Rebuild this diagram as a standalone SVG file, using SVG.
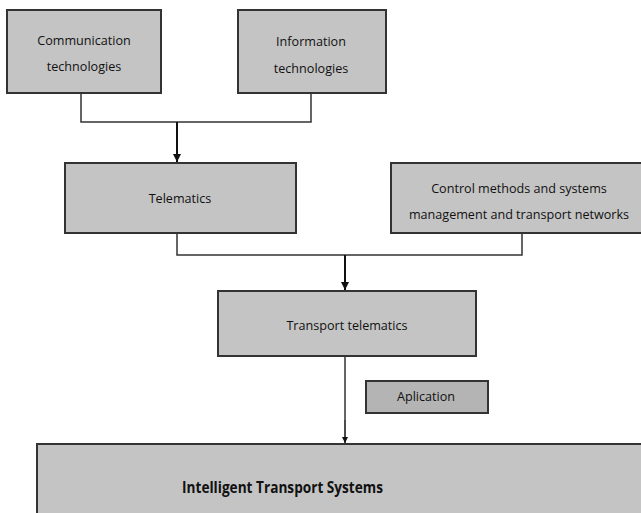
<svg xmlns="http://www.w3.org/2000/svg" width="641" height="513" viewBox="0 0 641 513">
<style>
.box{fill:#c4c4c4;stroke:#333;stroke-width:2}
.t{font-family:"Open Sans","Liberation Sans",sans-serif;font-size:12.6px;fill:#111;text-anchor:middle}
.b{font-family:"Open Sans","Liberation Sans",sans-serif;font-size:16px;font-weight:bold;fill:#111;text-anchor:middle}
.c{fill:none;stroke:#333;stroke-width:1.5}
.a{fill:none;stroke:#111;stroke-width:2}
</style>
<defs>
<marker id="ah" viewBox="0 0 10 10" refX="10" refY="5" markerWidth="4" markerHeight="4" orient="auto" markerUnits="strokeWidth">
<path d="M0,0L10,5L0,10z" fill="#111"/>
</marker>
</defs>
<rect width="641" height="513" fill="#fff"/>
<g id="connectors">
<path class="c" d="M81,93V122H311V93"/>
<path class="a" d="M177,122V162" marker-end="url(#ah)"/>
<path class="c" d="M177,233V255H522V234"/>
<path class="a" d="M345,255V290" marker-end="url(#ah)"/>
<path class="c" d="M345,356V420"/>
<path class="a" d="M345,420V443" marker-end="url(#ah)" style="stroke-width:1.5"/>
</g>
<g id="comm">
<rect class="box" x="7" y="10" width="154" height="83"/>
<text class="t" x="84" y="45">Communication</text>
<text class="t" x="84" y="71">technologies</text>
</g>
<g id="info">
<rect class="box" x="238" y="10" width="148" height="83"/>
<text class="t" x="311" y="46">Information</text>
<text class="t" x="311" y="73">technologies</text>
</g>
<g id="telematics">
<rect class="box" x="65" y="163" width="231" height="70"/>
<text class="t" x="180" y="203">Telematics</text>
</g>
<g id="control">
<rect class="box" x="391" y="163" width="256" height="70"/>
<text class="t" x="519" y="193">Control methods  and systems</text>
<text class="t" x="519" y="219">management  and transport networks</text>
</g>
<g id="transport">
<rect class="box" x="218" y="291" width="258" height="65"/>
<text class="t" x="347" y="330">Transport telematics</text>
</g>
<g id="aplication">
<rect class="box" x="366" y="381" width="122" height="32" style="fill:#b4b4b4"/>
<text class="t" x="426" y="401">Aplication</text>
</g>
<g id="its">
<rect class="box" x="37" y="444" width="612" height="80"/>
<text class="b" x="282.5" y="493" textLength="201" lengthAdjust="spacingAndGlyphs">Intelligent Transport Systems</text>
</g>
</svg>
